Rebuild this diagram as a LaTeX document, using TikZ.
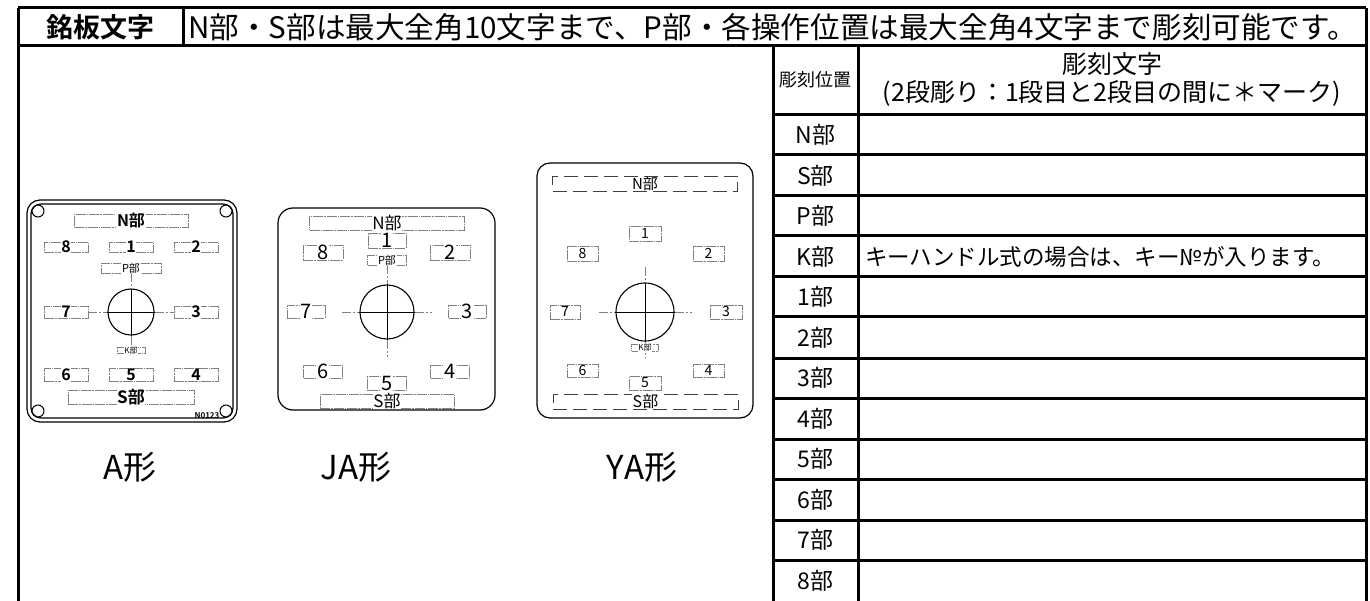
\documentclass[tikz,border=0pt]{standalone}
\usepackage{fontspec}
\setmainfont{Noto Sans CJK JP}[BoldFont={Noto Sans CJK JP Bold}]
\usepackage{tikz}
\newcommand{\fsz}[1]{\fontsize{#1}{#1}\selectfont}

\begin{document}
\begin{tikzpicture}[x=1pt,y=-1pt,every node/.style={inner sep=0pt},
  tb/.style={line width=3pt},
  bx/.style={draw=gray,line width=0.7pt,dash pattern=on 10pt off 1pt on 1.5pt off 1pt},
  lbx/.style={draw=black!75,line width=0.7pt,dash pattern=on 14pt off 6pt},
  ctr/.style={gray,line width=0.7pt,dash pattern=on 9pt off 2pt on 2pt off 2pt},
  wt/.style={fill=white,inner sep=0.6pt},
  hole/.style={circle,draw,line width=1pt,minimum size=12pt},
  knob/.style={circle,draw,line width=1.1pt}]
\useasboundingbox (0,0) rectangle (1370,601);

% frame and header
\draw[tb] (18,8) -- (1366,8);
\draw[tb] (18,46) -- (1366,46);
\draw[tb] (18,8) -- (18,601);
\draw[tb] (1366,8) -- (1366,601);
\draw[tb] (183,8) -- (183,46);
\node (tHead) at (100,27) {\fsz{27}\bfseries 銘板文字};
\node[anchor=west] (tDesc) at (188,27) {\fsz{29.6}N部・S部は最大全角10文字まで、P部・各操作位置は最大全角4文字まで彫刻可能です。};

% table
\draw[tb] (773,46) -- (773,601);
\draw[tb] (858,46) -- (858,601);
\draw[tb] (773,115) -- (1366,115);
\draw[tb] (773,155) -- (1366,155);
\draw[tb] (773,196) -- (1366,196);
\draw[tb] (773,236) -- (1366,236);
\draw[tb] (773,277) -- (1366,277);
\draw[tb] (773,317) -- (1366,317);
\draw[tb] (773,358) -- (1366,358);
\draw[tb] (773,398) -- (1366,398);
\draw[tb] (773,439) -- (1366,439);
\draw[tb] (773,479) -- (1366,479);
\draw[tb] (773,520) -- (1366,520);
\draw[tb] (773,560) -- (1366,560);
\node (cPos) at (815.5,80) {\fsz{18}彫刻位置};
\node (cTxt) at (1112,64) {\fsz{25}彫刻文字};
\node (cNote) at (1112,93) {\fsz{25}(2段彫り：1段目と2段目の間に＊マーク)};
\node (rN) at (815.5,135) {\fsz{23}N部};
\node (rS) at (815.5,175.5) {\fsz{23}S部};
\node (rP) at (815.5,216) {\fsz{23}P部};
\node (rK) at (815.5,256.5) {\fsz{23}K部};
\node (r1) at (815.5,297) {\fsz{23}1部};
\node (r2) at (815.5,337.5) {\fsz{23}2部};
\node (r3) at (815.5,378) {\fsz{23}3部};
\node (r4) at (815.5,418.5) {\fsz{23}4部};
\node (r5) at (815.5,459) {\fsz{23}5部};
\node (r6) at (815.5,499.5) {\fsz{23}6部};
\node (r7) at (815.5,540) {\fsz{23}7部};
\node (r8) at (815.5,580.5) {\fsz{23}8部};
\node[anchor=west] (rKt) at (865,256.5) {\fsz{22.5}キーハンドル式の場合は、キー№が入ります。};

% A plate
\draw[line width=1.2pt,rounded corners=13pt] (27,200) rectangle (237,422);
\draw[line width=1.2pt,rounded corners=10pt] (31,204) rectangle (233,418);
\node[hole] (aH1) at (38,211) {};
\node[hole] (aH2) at (226,211) {};
\node[hole] (aH3) at (38,411) {};
\node[hole] (aH4) at (226,411) {};
\begin{scope}[every label/.append style={wt,font=\fsz{16}\bfseries}]
\node[bx,minimum width=114pt,minimum height=13pt,label={center:N部}] (aN) at (131,220.5) {};
\node[bx,minimum width=44pt,minimum height=10pt,label={center:8}] (a8) at (66,247) {};
\node[bx,minimum width=44pt,minimum height=10pt,label={center:1}] (a1) at (131,247) {};
\node[bx,minimum width=44pt,minimum height=10pt,label={center:2}] (a2) at (196,247) {};
\node[bx,minimum width=60pt,minimum height=10pt,label={[font=\fsz{11}]center:P部}] (aP) at (131,268) {};
\node[bx,minimum width=44pt,minimum height=12pt,label={center:7}] (a7) at (66,312) {};
\node[bx,minimum width=44pt,minimum height=12pt,label={center:3}] (a3) at (196,312) {};
\node[bx,minimum width=28pt,minimum height=6pt,label={[font=\fsz{8}]center:K部}] (aK) at (131,350) {};
\node[bx,minimum width=44pt,minimum height=13pt,label={center:6}] (a6) at (66,375) {};
\node[bx,minimum width=44pt,minimum height=13pt,label={center:5}] (a5) at (131,375) {};
\node[bx,minimum width=44pt,minimum height=13pt,label={center:4}] (a4) at (196,375) {};
\node[bx,minimum width=126pt,minimum height=14pt,label={[font=\fsz{17}\bfseries]center:S部}] (aS) at (131,397) {};
\end{scope}
\node (aNo) at (207,416) {\fsz{8}\bfseries N0123};
\node[knob,minimum size=46pt] (aC) at (131,312) {};
\draw[line width=0.6pt] (aC.north) -- (aC.south) (aC.west) -- (aC.east);
\draw[ctr] (aP.south) -- (aC.north);
\draw[ctr] (aC.south) -- (aK.north);
\draw[ctr] (a7.east) -- (aC.west);
\draw[ctr] (aC.east) -- (a3.west);
\node (lA) at (130,467) {\fsz{33}A形};

% JA plate
\draw[line width=1.2pt,rounded corners=15pt] (278,208) rectangle (495,410);
\begin{scope}[every label/.append style={wt,font=\fsz{20}}]
\node[bx,minimum width=155pt,minimum height=14pt,label={[font=\fsz{17}]center:N部}] (jN) at (387,223) {};
\node[bx,minimum width=38pt,minimum height=15pt,label={center:1}] (j1) at (387,240.5) {};
\node[bx,minimum width=40pt,minimum height=15pt,label={center:8}] (j8) at (323,252.5) {};
\node[bx,minimum width=40pt,minimum height=15pt,label={center:2}] (j2) at (450,252.5) {};
\node[bx,minimum width=39pt,minimum height=10pt,label={[font=\fsz{11}]center:P部}] (jP) at (387,260) {};
\node[bx,minimum width=38pt,minimum height=13pt,label={center:7}] (j7) at (306,311.5) {};
\node[bx,minimum width=38pt,minimum height=13pt,label={center:3}] (j3) at (467.5,311.5) {};
\node[bx,minimum width=39pt,minimum height=13pt,label={center:6}] (j6) at (323,371.5) {};
\node[bx,minimum width=39pt,minimum height=13pt,label={center:4}] (j4) at (450,371.5) {};
\node[bx,minimum width=39pt,minimum height=14pt,label={center:5}] (j5) at (387,383) {};
\node[bx,minimum width=134pt,minimum height=14pt,label={[font=\fsz{17}]center:S部}] (jS) at (387,401) {};
\end{scope}
\node[knob,minimum size=54pt] (jC) at (387,312) {};
\coordinate (jB) at (387,357);
\coordinate (jL) at (342,312);
\coordinate (jR) at (432,312);
\draw[line width=0.6pt] (jC.north) -- (jC.south) (jC.west) -- (jC.east);
\draw[ctr] (jP.south) -- (jC.north);
\draw[ctr] (jC.south) -- (jB);
\draw[ctr] (jL) -- (jC.west);
\draw[ctr] (jC.east) -- (jR);
\node (lJA) at (356,467) {\fsz{33}JA形};

% YA plate
\draw[line width=1.2pt,rounded corners=13pt] (537,163) rectangle (753,418);
\begin{scope}[every label/.append style={wt,font=\fsz{14}}]
\node[lbx,minimum width=185pt,minimum height=15pt,label={[font=\fsz{15}]center:N部}] (yN) at (645,184) {};
\node[bx,minimum width=32pt,minimum height=15pt,label={center:1}] (y1) at (645,233.5) {};
\node[bx,minimum width=31pt,minimum height=15pt,label={center:8}] (y8) at (582.5,253.5) {};
\node[bx,minimum width=31pt,minimum height=15pt,label={center:2}] (y2) at (708.5,253.5) {};
\node[bx,minimum width=30pt,minimum height=14pt,label={center:7}] (y7) at (565,312) {};
\node[bx,minimum width=32pt,minimum height=14pt,label={center:3}] (y3) at (726,312) {};
\node[bx,minimum width=31pt,minimum height=13pt,label={center:6}] (y6) at (582.5,370.5) {};
\node[bx,minimum width=31pt,minimum height=13pt,label={center:4}] (y4) at (708.5,370.5) {};
\node[bx,minimum width=32pt,minimum height=14pt,label={center:5}] (y5) at (645,383) {};
\node[lbx,minimum width=185pt,minimum height=15pt,label={[font=\fsz{16}]center:S部}] (yS) at (645.5,401.5) {};
\end{scope}
\node[knob,minimum size=58pt] (yC) at (645,312) {};
\coordinate (yT) at (645,267);
\coordinate (yB) at (645,357);
\coordinate (yL) at (599,312);
\coordinate (yR) at (692,312);
\draw[line width=0.6pt] (yC.north) -- (yC.south) (yC.west) -- (yC.east);
\draw[ctr] (yT) -- (yC.north);
\draw[ctr] (yC.south) -- (yB);
\draw[ctr] (yL) -- (yC.west);
\draw[ctr] (yC.east) -- (yR);
\node[bx,fill=white,minimum width=27pt,minimum height=7pt,label={[wt,font=\fsz{8}]center:K部}] (yK) at (645,347.5) {};
\node (lYA) at (642,467) {\fsz{33}YA形};
\end{tikzpicture}
\end{document}
